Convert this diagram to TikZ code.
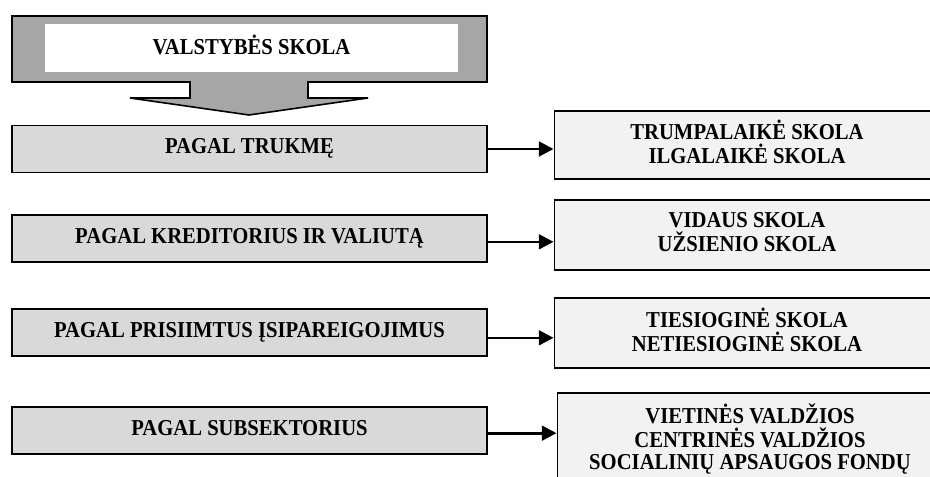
\documentclass[tikz,border=0pt]{standalone}
\usepackage{graphicx}
\usepackage{fontspec}
\setmainfont{Liberation Serif}
\usetikzlibrary{arrows.meta}

\definecolor{arrowgray}{HTML}{A6A6A6}
\definecolor{critgray}{HTML}{D9D9D9}
\definecolor{typegray}{HTML}{F2F2F2}

% slightly taller lettering, as in the scanned original
\newcommand{\tallstack}[1]{\scalebox{1}[1.1]{\begin{tabular}{@{}c@{}}#1\end{tabular}}}

\tikzset{
    critbox/.style={draw=black, line width=1.2pt, fill=critgray,
        minimum width=356pt, minimum height=35pt, inner sep=0pt},
    typebox/.style={draw=black, line width=1.2pt, fill=typegray,
        minimum width=289pt, align=center, inner sep=0pt},
    conn/.style={line width=2pt, -{Triangle[length=11pt, width=11pt]}},
    lbl/.style={font=\fontsize{15.5}{15.7}\selectfont\bfseries}
}

\begin{document}
\begin{tikzpicture}[x=0.75pt, y=-0.75pt]
        \useasboundingbox (0, 0) rectangle (930, 477);
        \clip (0, 0) rectangle (930, 477);
        % top block with the down arrow
        \draw[line width=1.2pt, fill=arrowgray] (12, 16) -- (487, 16) -- (487, 82) -- (308, 82) -- (308, 98)
            -- (368, 98) -- (249, 115) -- (130, 98) -- (190, 98) -- (190, 82) -- (12, 82) -- cycle;
        \fill[white] (45, 24) rectangle (458, 72);
        \node[lbl] (top) at (251.5, 48) {\tallstack{VALSTYBĖS SKOLA}};
        % criteria
        \node[critbox, lbl] (l1) at (249.5, 149) {\tallstack{PAGAL TRUKMĘ}};
        \node[critbox, lbl] (l2) at (249.5, 238.5) {\tallstack{PAGAL KREDITORIUS IR VALIUTĄ}};
        \node[critbox, lbl] (l3) at (249.5, 332.5) {\tallstack{PAGAL PRISIIMTUS ĮSIPAREIGOJIMUS}};
        \node[critbox, lbl] (l4) at (249.5, 430.5) {\tallstack{PAGAL SUBSEKTORIUS}};
        % kinds of debt
        \node[typebox, lbl, minimum height=51pt] (r1) at (747, 145) {\tallstack{TRUMPALAIKĖ SKOLA\\[-2pt]ILGALAIKĖ SKOLA}};
        \node[typebox, lbl, minimum height=52.5pt] (r2) at (747, 235) {\tallstack{VIDAUS SKOLA\\[-2pt]UŽSIENIO SKOLA}};
        \node[typebox, lbl, minimum height=52.5pt] (r3) at (747, 333) {\tallstack{TIESIOGINĖ SKOLA\\[-2pt]NETIESIOGINĖ SKOLA}};
        \node[typebox, lbl, minimum height=70.5pt] (r4) at (750, 440) {\tallstack{VIETINĖS VALDŽIOS\\[-2pt]CENTRINĖS VALDŽIOS\\[-1pt]SOCIALINIŲ APSAUGOS FONDŲ}};
        \draw[conn] (l1.east) -- (l1.east -| r1.west);
        \draw[conn] ([yshift=-2.5pt]l2.east) -- ([yshift=-2.5pt]l2.east -| r2.west);
        \draw[conn] ([yshift=-4pt]l3.east) -- ([yshift=-4pt]l3.east -| r3.west);
        \draw[conn] ([yshift=-2pt]l4.east) -- ([yshift=-2pt]l4.east -| r4.west);
    \end{tikzpicture}
\end{document}
